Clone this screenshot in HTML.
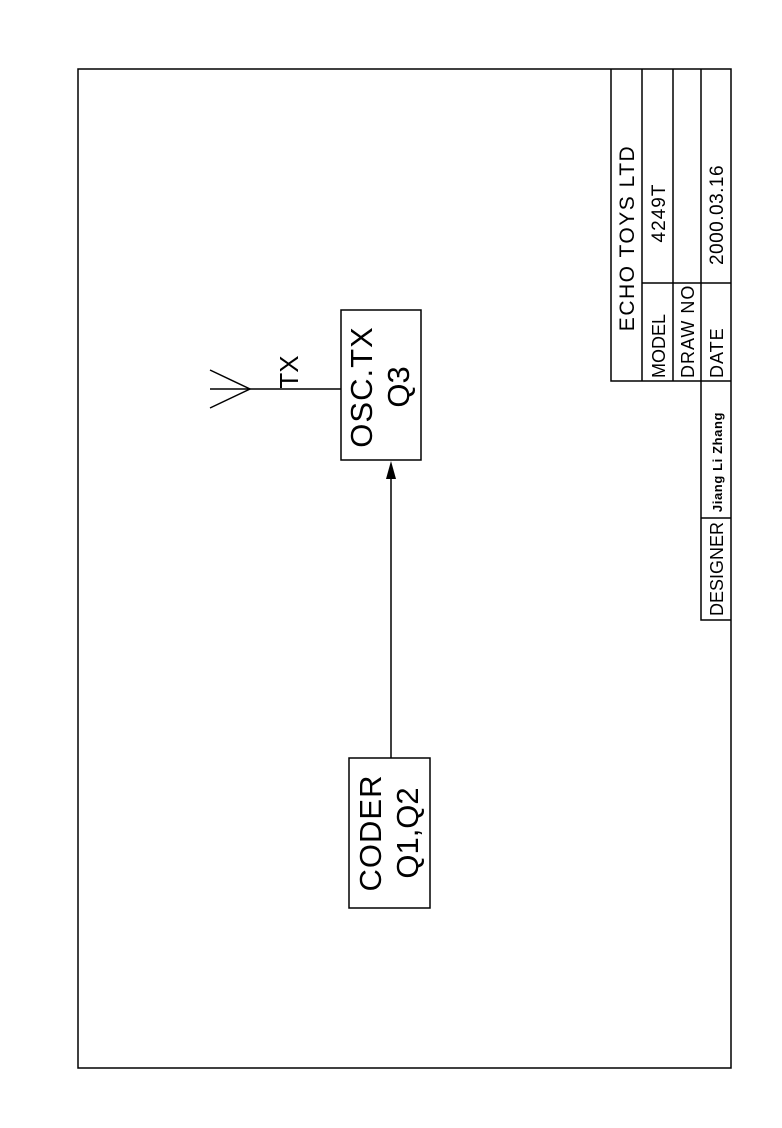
<!DOCTYPE html>
<html><head><meta charset="utf-8"><style>
html,body{margin:0;padding:0;background:#fff;}
svg{display:block;}
text{font-family:"Liberation Sans",sans-serif;fill:#000;}
</style></head><body>
<svg width="782" height="1128" viewBox="0 0 782 1128" xmlns="http://www.w3.org/2000/svg">
<g fill="none" stroke="#000" stroke-width="1.5">
<rect x="78" y="69" width="653" height="999"/>
<path d="M611 69 V381 H731"/>
<path d="M642 69 V381"/>
<path d="M673 69 V381"/>
<path d="M701 69 V620 H731"/>
<path d="M642 283 H731"/>
<path d="M701 518 H731"/>
<rect x="341" y="310" width="80" height="150"/>
<rect x="349" y="758" width="81" height="150"/>
<path d="M391 758 V478"/>
<path d="M210 389 H341"/>
<path d="M210 370 L250 389 L210 408"/>
</g>
<polygon points="391,461 386,479 396,479" fill="#000"/>
<g text-anchor="middle">
<text transform="translate(298,372) rotate(-90)" font-size="26">TX</text>
<text transform="translate(372,387) rotate(-90)" font-size="31" letter-spacing="1">OSC.TX</text>
<text transform="translate(409,387) rotate(-90)" font-size="31">Q3</text>
<text transform="translate(381,833) rotate(-90)" font-size="31" letter-spacing="1">CODER</text>
<text transform="translate(418,833) rotate(-90)" font-size="31">Q1,Q2</text>
<text transform="translate(634,238) rotate(-90)" font-size="21" letter-spacing="1.5">ECHO TOYS LTD</text>
<text transform="translate(665,213) rotate(-90)" font-size="19" letter-spacing="1">4249T</text>
<text transform="translate(723,215) rotate(-90)" font-size="19" letter-spacing="0.5">2000.03.16</text>
<text transform="translate(723,569) rotate(-90)" font-size="18">DESIGNER</text>
<text transform="translate(722,462) rotate(-90)" font-size="13" font-weight="bold" letter-spacing="0.6">Jiang Li Zhang</text>
</g>
<g text-anchor="start">
<text transform="translate(665,378) rotate(-90)" font-size="18">MODEL</text>
<text transform="translate(694,378) rotate(-90)" font-size="18" letter-spacing="1">DRAW NO</text>
<text transform="translate(723,378) rotate(-90)" font-size="18" letter-spacing="1">DATE</text>
</g>
</svg>
</body></html>
